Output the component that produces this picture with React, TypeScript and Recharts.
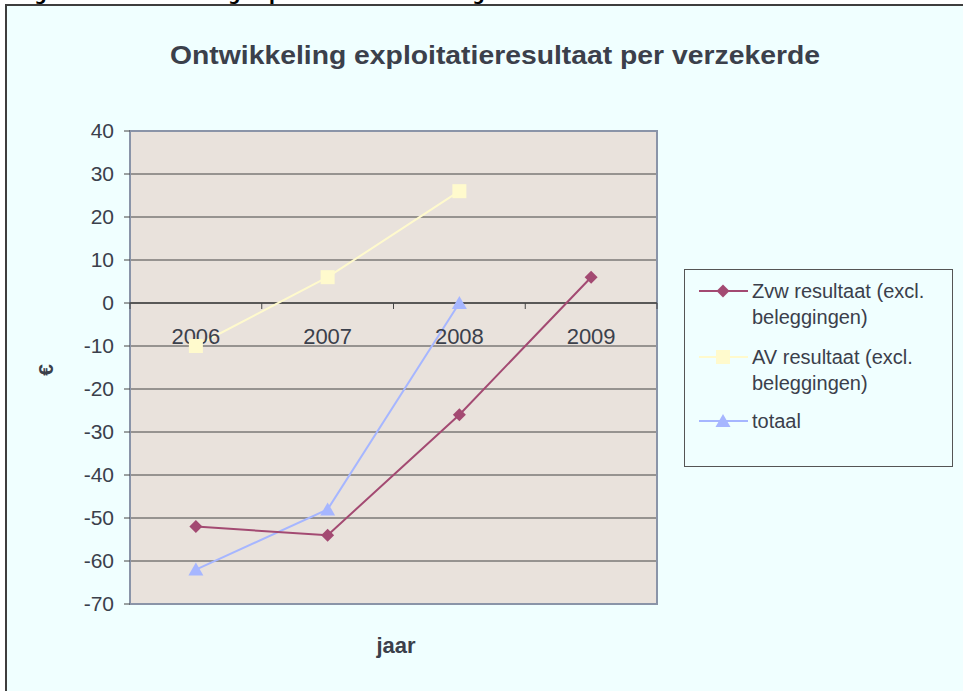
import React from "react";
import {
  LineChart,
  Line,
  XAxis,
  YAxis,
  CartesianGrid,
  ReferenceLine,
  ReferenceDot,
  ReferenceArea,
} from "recharts";

const years = [2006, 2007, 2008, 2009];
const zvwValues = [-52, -54, -26, 6];
const avValues: (number | null)[] = [-10, 6, 26, null];
const totaalValues: (number | null)[] = [-62, -48, 0, null];
const yTicks = [-70, -60, -50, -40, -30, -20, -10, 0, 10, 20, 30, 40];
const boundaries = [2005.5, 2006.5, 2007.5, 2008.5, 2009.5];

const seriesNames = {
  zvw: "Zvw resultaat (excl. beleggingen)",
  av: "AV resultaat (excl. beleggingen)",
  totaal: "totaal",
};

const COLORS = {
  zvw: "#A34A72",
  av: "#FFFACD",
  totaal: "#A6B6FF",
};

const TEXT = "#3B404B";
const FONT = "'Liberation Sans', Arial, sans-serif";

const data = years.map((y, i) => ({
  year: y,
  zvw: zvwValues[i],
  av: avValues[i],
  totaal: totaalValues[i],
}));

const Diamond = ({ cx, cy, color }: any) => (
  <path
    d={`M${cx},${cy - 6.5} L${cx + 6.5},${cy} L${cx},${cy + 6.5} L${cx - 6.5},${cy} Z`}
    fill={color}
  />
);
const Square = ({ cx, cy, color }: any) => (
  <rect x={cx - 7} y={cy - 7} width={14} height={14} fill={color} />
);
const Triangle = ({ cx, cy, color }: any) => (
  <path
    d={`M${cx},${cy - 7} L${cx + 7.5},${cy + 6} L${cx - 7.5},${cy + 6} Z`}
    fill={color}
  />
);

const makeDot = (Shape: any, color: string) => (props: any) => {
  const { cx, cy, index, value } = props;
  if (cx == null || cy == null || value == null)
    return <g key={`e-${index}`} />;
  return (
    <g key={`d-${index}`}>
      <Shape cx={cx} cy={cy} color={color} />
    </g>
  );
};

const LegendItem = ({ top, label, Shape, color }: any) => {
  const lines = label.includes("(")
    ? [label.slice(0, label.indexOf("beleggingen")).trim(), "beleggingen)"]
    : [label];
  return (
    <div style={{ position: "absolute", left: 0, top, width: 268 }}>
      <svg
        width={60}
        height={20}
        style={{ position: "absolute", left: 12, top: 3 }}
      >
        <line x1={2} y1={10} x2={51} y2={10} stroke={color} strokeWidth={2} />
        <Shape cx={26} cy={10} color={color} />
      </svg>
      <div
        style={{
          position: "absolute",
          left: 67,
          top: 0,
          fontFamily: FONT,
          fontSize: 20,
          lineHeight: "26px",
          color: TEXT,
          whiteSpace: "nowrap",
        }}
      >
        {lines.map((l: string, i: number) => (
          <div key={i}>{l}</div>
        ))}
      </div>
    </div>
  );
};

export default function App() {
  return (
    <div
      style={{
        position: "absolute",
        left: 0,
        top: 0,
        width: 963,
        height: 691,
        background: "#FFFFFF",
        overflow: "hidden",
      }}
    >
      <div
        style={{
          position: "absolute",
          left: 17,
          top: -16,
          fontFamily: "'DejaVu Sans', Verdana, sans-serif",
          fontWeight: "bold",
          fontSize: 17,
          color: "#000",
          whiteSpace: "nowrap",
        }}
      >
        Figuur 15 Ontwikkeling exploitatieresultaat zorgverzekeraars
      </div>
      <div
        style={{
          position: "absolute",
          left: 5,
          top: 4,
          width: 980,
          height: 700,
          border: "2px solid #3E3E3E",
          background: "#F0FFFF",
        }}
      />
      <div
        style={{
          position: "absolute",
          left: 0,
          top: 0,
          width: 963,
          height: 691,
        }}
      >
        <LineChart
          width={963}
          height={691}
          data={data}
          margin={{ top: 131, right: 306, bottom: 87, left: 70 }}
        >
          <CartesianGrid
            vertical={false}
            fill="#E9E2DC"
            stroke="#454545"
            strokeWidth={1}
            fillOpacity={1}
          />
          <XAxis
            dataKey="year"
            type="number"
            domain={[2005.5, 2009.5]}
            hide
          />
          <YAxis
            type="number"
            domain={[-70, 40]}
            ticks={yTicks}
            interval={0}
            width={60}
            axisLine={false}
            tickSize={6}
            tickMargin={10}
            tickLine={{ stroke: "#454545" }}
            tick={{ fill: TEXT, fontSize: 21, fontFamily: FONT }}
          />
          <ReferenceLine y={0} stroke="#454545" strokeWidth={1.5} />
          {boundaries.map((b) => (
            <ReferenceDot
              key={`t-${b}`}
              x={b}
              y={0}
              r={0}
              ifOverflow="visible"
              shape={(p: any) => (
                <line
                  x1={p.cx}
                  y1={p.cy}
                  x2={p.cx}
                  y2={p.cy + 6}
                  stroke="#454545"
                  strokeWidth={1}
                />
              )}
            />
          ))}
          {years.map((y) => (
            <ReferenceDot
              key={`l-${y}`}
              x={y}
              y={0}
              r={0}
              ifOverflow="visible"
              shape={(p: any) => (
                <text
                  x={p.cx}
                  y={p.cy + 41}
                  textAnchor="middle"
                  fill={TEXT}
                  fontSize={22}
                  fontFamily={FONT}
                >
                  {y}
                </text>
              )}
            />
          ))}
          <ReferenceArea
            x1={2005.5}
            x2={2009.5}
            y1={-70}
            y2={40}
            fill="none"
            fillOpacity={0}
            stroke="#8A94A8"
            strokeWidth={2}
            ifOverflow="visible"
          />
          <Line
            dataKey="av"
            name={seriesNames.av}
            stroke={COLORS.av}
            strokeWidth={2}
            dot={makeDot(Square, COLORS.av)}
            activeDot={false}
            isAnimationActive={false}
          />
          <Line
            dataKey="totaal"
            name={seriesNames.totaal}
            stroke={COLORS.totaal}
            strokeWidth={2}
            dot={makeDot(Triangle, COLORS.totaal)}
            activeDot={false}
            isAnimationActive={false}
          />
          <Line
            dataKey="zvw"
            name={seriesNames.zvw}
            stroke={COLORS.zvw}
            strokeWidth={2}
            dot={makeDot(Diamond, COLORS.zvw)}
            activeDot={false}
            isAnimationActive={false}
          />
          <text
            x={495}
            y={64}
            textAnchor="middle"
            fill={TEXT}
            fontSize={26}
            fontWeight="bold"
            fontFamily={FONT}
            textLength={650}
            lengthAdjust="spacingAndGlyphs"
          >
            Ontwikkeling exploitatieresultaat per verzekerde
          </text>
          <text
            x={396}
            y={653}
            textAnchor="middle"
            fill={TEXT}
            fontSize={22}
            fontWeight="bold"
            fontFamily={FONT}
          >
            jaar
          </text>
          <text
            x={53}
            y={370}
            textAnchor="middle"
            fill={TEXT}
            fontSize={21}
            fontWeight="bold"
            fontFamily={FONT}
            transform="rotate(-90 53 370)"
          >
            €
          </text>
        </LineChart>
      </div>
      <div
        style={{
          position: "absolute",
          left: 684,
          top: 269,
          width: 267,
          height: 196,
          border: "1px solid #555",
          background: "#F0FFFF",
        }}
      >
        <LegendItem
          top={8}
          label={seriesNames.zvw}
          Shape={Diamond}
          color={COLORS.zvw}
        />
        <LegendItem
          top={74}
          label={seriesNames.av}
          Shape={Square}
          color={COLORS.av}
        />
        <LegendItem
          top={138}
          label={seriesNames.totaal}
          Shape={Triangle}
          color={COLORS.totaal}
        />
      </div>
    </div>
  );
}
